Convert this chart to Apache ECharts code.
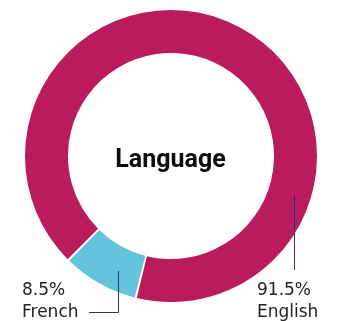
<!DOCTYPE html>
<html>
<head>
<meta charset="utf-8">
<script src="https://cdn.jsdelivr.net/npm/echarts@6/dist/echarts.min.js"></script>
<style>html,body{margin:0;padding:0;background:#fff}#c{width:341px;height:321px}</style>
</head>
<body>
<div id="c"></div>
<script>
var categories = ['French', 'English'];
var values = [8.5, 91.5];
var colors = ['#63C3DB', '#B91B5C'];
var title = 'Language';

var chart = echarts.init(document.getElementById('c'), null, {renderer: 'canvas'});
var labelPos = {
  French: {x: 22, y: 280, line: [[118.5, 271], [118.5, 312.5], [89, 312.5]]},
  English: {x: 257, y: 280, line: [[294.5, 194], [294.5, 232], [294.5, 270]]}
};
var pieData = categories.map(function (c, i) {
  return {name: c, value: values[i], itemStyle: {color: colors[i]}};
});
var common = {
  type: 'pie',
  center: [171, 156],
  radius: [103, 146],
  startAngle: 256,
  clockwise: true,
  padAngle: 0.9
};
chart.setOption({
  animation: false,
  title: {
    text: title, left: 'center', top: 'middle',
    textStyle: {fontFamily: 'Roboto', fontWeight: 'bold', fontSize: 25, color: '#0d0d0d'}
  },
  series: [
    Object.assign({}, common, {
      z: 2,
      data: pieData,
      label: {show: false},
      labelLine: {show: false}
    }),
    Object.assign({}, common, {
      z: 5,
      silent: true,
      data: pieData.map(function (d) {
        return {name: d.name, value: d.value, itemStyle: {color: 'rgba(0,0,0,0)'}};
      }),
      label: {
        show: true,
        position: 'outside',
        overflow: 'none',
        width: 100,
        formatter: function (p) { return '{v|' + p.value + '%}\n{n|' + p.name + '}'; },
        rich: {
          v: {fontFamily: 'DejaVu Sans', fontSize: 17, color: '#222', lineHeight: 22, align: 'left'},
          n: {fontFamily: 'DejaVu Sans', fontSize: 17, color: '#222', lineHeight: 22, align: 'left'}
        }
      },
      labelLine: {show: true, lineStyle: {color: '#2e2e8f', width: 1, opacity: 1}},
      labelLayout: function (params) {
        var name = categories[params.dataIndex];
        var p = labelPos[name];
        return {x: p.x, y: p.y, align: 'left', verticalAlign: 'top', labelLinePoints: p.line};
      }
    })
  ]
});
</script>
</body>
</html>
